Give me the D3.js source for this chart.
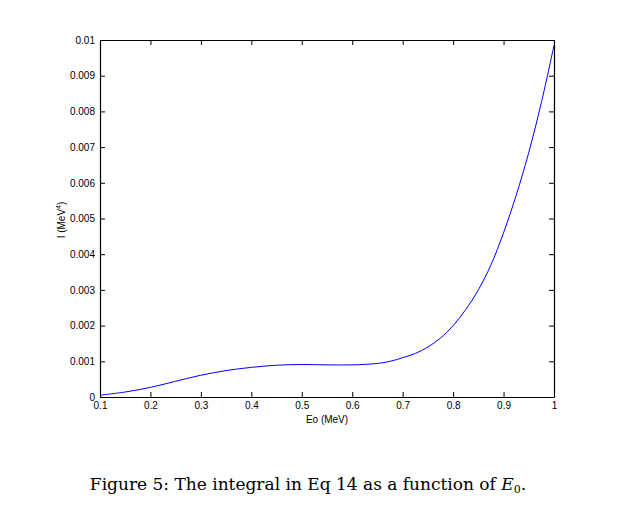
<!DOCTYPE html>
<html>
<head>
<meta charset="utf-8">
<script src="https://cdn.jsdelivr.net/npm/d3@7"></script>
<style>
  body { margin: 0; background: #fff; }
  svg text { font-family: "Liberation Sans", Arial, sans-serif; }
</style>
</head>
<body>
<svg id="chart" width="638" height="515"></svg>
<script>
// energy E0 (MeV) and integral I (MeV^4)
var energy = [0.10, 0.15, 0.20, 0.25, 0.30, 0.35, 0.40, 0.45, 0.50, 0.55, 0.60, 0.65, 0.675,
              0.70, 0.725, 0.75, 0.775, 0.80, 0.825, 0.85, 0.875, 0.90, 0.925, 0.95, 0.975, 1.00];
var integral = [0.00005, 0.00014, 0.00027, 0.00044, 0.00061, 0.00074, 0.00083, 0.00089,
                0.00091, 0.00090, 0.00090, 0.00094, 0.00100, 0.00110, 0.00122, 0.00140,
                0.00165, 0.00200, 0.00245, 0.00300, 0.00370, 0.00460, 0.00565, 0.00685,
                0.00825, 0.00985];
var xTicks = [0.1, 0.2, 0.3, 0.4, 0.5, 0.6, 0.7, 0.8, 0.9, 1];
var yTicks = [0, 0.001, 0.002, 0.003, 0.004, 0.005, 0.006, 0.007, 0.008, 0.009, 0.01];

var svg = d3.select("#chart");
var plotLeft = 100, plotTop = 40, plotRight = 554, plotBottom = 397;

var x = d3.scaleLinear().domain([0.1, 1]).range([plotLeft, plotRight]);
var y = d3.scaleLinear().domain([0, 0.01]).range([plotBottom, plotTop]);

var fmt = function(d) { return String(+d.toFixed(3)); };

// axes on all four sides, ticks pointing inward
var gx = svg.append("g").attr("transform", "translate(0," + plotBottom + ")")
  .call(d3.axisBottom(x).tickValues(xTicks).tickSizeInner(-5).tickSizeOuter(0).tickPadding(5).tickFormat(fmt));
var gxTop = svg.append("g").attr("transform", "translate(0," + plotTop + ")")
  .call(d3.axisTop(x).tickValues(xTicks).tickSizeInner(-5).tickSizeOuter(0).tickFormat(""));
var gy = svg.append("g").attr("transform", "translate(" + plotLeft + ",0)")
  .call(d3.axisLeft(y).tickValues(yTicks).tickSizeInner(-5).tickSizeOuter(0).tickPadding(5).tickFormat(fmt));
var gyRight = svg.append("g").attr("transform", "translate(" + plotRight + ",0)")
  .call(d3.axisRight(y).tickValues(yTicks).tickSizeInner(-5).tickSizeOuter(0).tickFormat(""));

[gx, gxTop, gy, gyRight].forEach(function(g) {
  g.select(".domain").attr("stroke", "#000").attr("stroke-width", 1.2);
  g.selectAll(".tick line").attr("stroke", "#000");
  g.selectAll("text").attr("font-size", 10).attr("fill", "#000")
   .style("font-family", "'Liberation Sans', Arial, sans-serif");
});

// the curve
var line = d3.line()
  .x(function(d, i) { return x(energy[i]); })
  .y(function(d) { return y(d); })
  .curve(d3.curveCatmullRom.alpha(0.5));

svg.append("path")
  .datum(integral)
  .attr("fill", "none")
  .attr("stroke", "#0000ff")
  .attr("stroke-width", 1)
  .attr("d", line);

// axis labels
svg.append("text")
  .attr("x", 327).attr("y", 423)
  .attr("text-anchor", "middle")
  .attr("font-size", 10)
  .text("Eo (MeV)");

var yl = svg.append("text")
  .attr("transform", "translate(65,220) rotate(-90)")
  .attr("text-anchor", "middle")
  .attr("font-size", 10);
yl.append("tspan").text("I  (MeV");
yl.append("tspan").attr("font-size", 7).attr("dy", -4).text("4");
yl.append("tspan").attr("dy", 4).text(")");

// caption
var cap = svg.append("text")
  .attr("x", 308).attr("y", 490)
  .attr("text-anchor", "middle")
  .attr("font-size", 17)
  .style("font-family", "'DejaVu Serif', 'Liberation Serif', serif");
cap.append("tspan").text("Figure 5:  The integral in Eq 14 as a function of ");
cap.append("tspan").attr("font-style", "italic").text("E");
cap.append("tspan").attr("font-size", 11).attr("dy", 3).text("0");
cap.append("tspan").attr("dy", -3).text(".");
</script>
</body>
</html>
